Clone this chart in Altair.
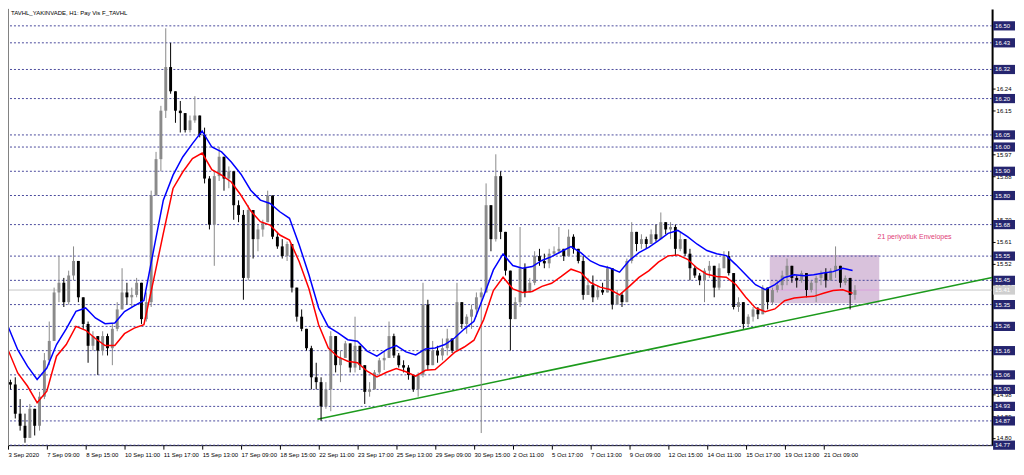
import altair as alt
import pandas as pd

W, H = 988, 438
FONT = "Liberation Sans"

# ---------------- data ----------------
first_open = 15.03
closes = [15.02, 14.90, 14.85, 14.80, 14.92, 14.85, 14.97, 15.12, 15.20, 15.40,
          15.44, 15.36, 15.47, 15.53, 15.38, 15.27, 15.18, 15.22, 15.16, 15.22,
          15.17, 15.25, 15.33, 15.40, 15.38, 15.39, 15.44, 15.29, 15.36, 15.80,
          15.95, 16.15, 16.33, 16.23, 16.15, 16.14, 16.07, 16.11, 16.13, 16.05,
          15.87, 15.68, 15.88, 15.96, 15.87, 15.90, 15.76, 15.72, 15.46, 15.74,
          15.62, 15.66, 15.69, 15.80, 15.63, 15.59, 15.55, 15.60, 15.42, 15.30,
          15.25, 15.17, 15.05, 15.03, 14.93, 15.00, 15.22, 15.10, 15.13, 15.19,
          15.09, 15.18, 15.10, 14.99, 15.00, 15.07, 15.12, 15.13, 15.22, 15.14,
          15.10, 15.09, 15.06, 15.00, 15.06, 15.35, 15.10, 15.16, 15.14, 15.17,
          15.21, 15.16, 15.36, 15.27, 15.30, 15.33, 15.38, 15.40, 15.76, 15.62,
          15.88, 15.65, 15.49, 15.29, 15.36, 15.50, 15.40, 15.44, 15.55, 15.53,
          15.52, 15.56, 15.57, 15.58, 15.55, 15.63, 15.58, 15.53, 15.39, 15.43,
          15.38, 15.41, 15.40, 15.50, 15.35, 15.39, 15.36, 15.53, 15.65, 15.60,
          15.62, 15.60, 15.64, 15.62, 15.69, 15.66, 15.67, 15.58, 15.62, 15.56,
          15.50, 15.47, 15.45, 15.49, 15.51, 15.42, 15.50, 15.55, 15.48, 15.34,
          15.36, 15.27, 15.30, 15.33, 15.31, 15.42, 15.36, 15.41, 15.43, 15.47,
          15.51, 15.46, 15.45, 15.48, 15.41, 15.44, 15.46, 15.48, 15.45, 15.49,
          15.51, 15.44, 15.46, 15.39, 15.41]
highs = [15.04, 15.05, 14.96, 14.90, 14.94, 14.92, 14.99, 15.15, 15.28, 15.42,
         15.55, 15.46, 15.49, 15.59, 15.53, 15.38, 15.28, 15.24, 15.22, 15.24,
         15.23, 15.27, 15.36, 15.50, 15.44, 15.42, 15.46, 15.44, 15.40, 15.82,
         15.98, 16.17, 16.49, 16.43, 16.22, 16.19, 16.14, 16.13, 16.21, 16.12,
         16.08, 15.88, 15.90, 16.00, 15.93, 15.92, 15.88, 15.78, 15.74, 15.76,
         15.68, 15.68, 15.70, 15.82, 15.73, 15.65, 15.62, 15.61, 15.58, 15.42,
         15.33, 15.25, 15.18, 15.11, 15.05, 15.03, 15.24, 15.18, 15.16, 15.20,
         15.16, 15.30, 15.17, 15.09, 15.03, 15.08, 15.13, 15.16, 15.28, 15.23,
         15.15, 15.12, 15.10, 15.06, 15.07, 15.44, 15.37, 15.20, 15.18, 15.21,
         15.25, 15.21, 15.44, 15.34, 15.31, 15.35, 15.40, 15.42, 15.85, 15.76,
         15.97, 15.90, 15.65, 15.47, 15.38, 15.67, 15.52, 15.46, 15.57, 15.58,
         15.56, 15.58, 15.59, 15.67, 15.58, 15.66, 15.64, 15.58, 15.55, 15.46,
         15.47, 15.43, 15.44, 15.51, 15.50, 15.41, 15.40, 15.54, 15.69, 15.64,
         15.64, 15.63, 15.66, 15.68, 15.73, 15.69, 15.69, 15.68, 15.65, 15.60,
         15.58, 15.51, 15.48, 15.50, 15.53, 15.47, 15.52, 15.57, 15.57, 15.48,
         15.38, 15.36, 15.31, 15.34, 15.34, 15.43, 15.42, 15.42, 15.45, 15.49,
         15.54, 15.50, 15.47, 15.49, 15.47, 15.45, 15.47, 15.49, 15.50, 15.50,
         15.59, 15.50, 15.47, 15.45, 15.43]
lows = [15.00, 14.88, 14.83, 14.78, 14.80, 14.81, 14.83, 14.96, 15.10, 15.20,
        15.36, 15.34, 15.35, 15.45, 15.36, 15.25, 15.11, 15.16, 15.06, 15.14,
        15.14, 15.10, 15.24, 15.34, 15.35, 15.34, 15.38, 15.27, 15.28, 15.34,
        15.80, 15.90, 16.12, 16.22, 16.10, 16.06, 16.06, 16.06, 16.10, 16.04,
        15.85, 15.66, 15.51, 15.86, 15.82, 15.83, 15.70, 15.69, 15.37, 15.45,
        15.54, 15.57, 15.63, 15.71, 15.62, 15.58, 15.54, 15.53, 15.40, 15.28,
        15.24, 15.16, 15.00, 15.00, 14.87, 14.92, 14.91, 15.07, 15.03, 15.13,
        15.07, 15.07, 15.08, 14.94, 14.97, 15.00, 15.06, 15.08, 15.14, 15.13,
        15.09, 15.07, 15.04, 14.99, 14.97, 15.05, 15.08, 15.10, 15.11, 15.12,
        15.14, 15.15, 15.18, 15.25, 15.23, 15.25, 15.30, 14.82, 15.40, 15.57,
        15.61, 15.62, 15.47, 15.16, 15.30, 15.34, 15.38, 15.40, 15.43, 15.51,
        15.50, 15.50, 15.55, 15.56, 15.53, 15.55, 15.56, 15.52, 15.37, 15.40,
        15.36, 15.37, 15.39, 15.40, 15.33, 15.35, 15.34, 15.36, 15.52, 15.57,
        15.58, 15.58, 15.60, 15.61, 15.62, 15.64, 15.62, 15.55, 15.57, 15.55,
        15.45, 15.46, 15.43, 15.36, 15.46, 15.38, 15.41, 15.52, 15.47, 15.33,
        15.32, 15.25, 15.26, 15.28, 15.29, 15.31, 15.33, 15.35, 15.40, 15.41,
        15.43, 15.44, 15.42, 15.44, 15.38, 15.40, 15.36, 15.43, 15.42, 15.45,
        15.46, 15.42, 15.43, 15.33, 15.37]

# envelope lines, one value every 4 bars
env_upper = [15.260, 15.164, 15.096, 15.041, 15.088, 15.185, 15.250, 15.322, 15.336, 15.295,
             15.271, 15.274, 15.321, 15.345, 15.367, 15.575, 15.781, 15.884, 15.959, 16.014,
             16.066, 16.000, 15.980, 15.938, 15.888, 15.822, 15.781, 15.767, 15.733, 15.706,
             15.596, 15.473, 15.336, 15.258, 15.233, 15.205, 15.199, 15.158, 15.137, 15.164,
             15.181, 15.155, 15.142, 15.167, 15.171, 15.185, 15.212, 15.249, 15.281, 15.384,
             15.493, 15.559, 15.511, 15.500, 15.507, 15.532, 15.548, 15.569, 15.589, 15.564,
             15.530, 15.511, 15.501, 15.484, 15.532, 15.564, 15.586, 15.614, 15.644, 15.656,
             15.630, 15.599, 15.573, 15.560, 15.552, 15.514, 15.473, 15.432, 15.412, 15.432,
             15.462, 15.473, 15.469, 15.473, 15.480, 15.486, 15.500, 15.491]
env_lower = [15.164, 15.068, 15.014, 14.945, 14.993, 15.137, 15.185, 15.260, 15.244, 15.210,
             15.181, 15.181, 15.230, 15.253, 15.267, 15.452, 15.644, 15.829, 15.897, 15.952,
             15.975, 15.907, 15.884, 15.856, 15.801, 15.737, 15.692, 15.678, 15.637, 15.616,
             15.527, 15.415, 15.267, 15.171, 15.134, 15.116, 15.110, 15.075, 15.052, 15.071,
             15.086, 15.073, 15.055, 15.079, 15.082, 15.116, 15.153, 15.175, 15.203, 15.288,
             15.408, 15.463, 15.415, 15.400, 15.404, 15.425, 15.438, 15.466, 15.496, 15.482,
             15.441, 15.422, 15.412, 15.390, 15.425, 15.462, 15.489, 15.525, 15.551, 15.555,
             15.537, 15.500, 15.475, 15.466, 15.463, 15.432, 15.380, 15.336, 15.321, 15.332,
             15.366, 15.377, 15.381, 15.384, 15.397, 15.408, 15.411, 15.397]

levels = [16.50, 16.43, 16.32, 16.20, 16.05, 16.00, 15.90, 15.80, 15.68, 15.55,
          15.45, 15.35, 15.26, 15.16, 15.06, 15.00, 14.93, 14.87, 14.77]
current_price = 15.41
scale_ticks = [round(14.80 + 0.09 * k, 2) for k in range(20)]
x_labels = ["3 Sep 2020", "7 Sep 09:00", "8 Sep 15:00", "10 Sep 11:00", "11 Sep 17:00",
            "15 Sep 13:00", "17 Sep 09:00", "18 Sep 15:00", "22 Sep 11:00", "23 Sep 17:00",
            "25 Sep 13:00", "29 Sep 09:00", "30 Sep 15:00", "2 Oct 11:00", "5 Oct 17:00",
            "7 Oct 13:00", "9 Oct 09:00", "12 Oct 15:00", "14 Oct 11:00", "15 Oct 17:00",
            "19 Oct 13:00", "21 Oct 09:00"]
trend_x = [127.5, 405.5]
trend_y = [14.877, 15.462]
box_x = [313.9, 359.0]
box_y = [15.555, 15.356]
title_text = "TAVHL_YAKINVADE, H1: Pay Vis F_TAVHL"
note_text = "21 periyotluk Envelopes"
note_pos = (358.3, 15.629)

# ---------------- tables ----------------
rows = []
prev = first_open
for j, c in enumerate(closes):
    o = prev
    hi = max(highs[j], o, c)
    lo = min(lows[j], o, c)
    bot, top = min(o, c), max(o, c)
    if top - bot < 0.005:
        top = bot + 0.005
    s = 2 * j + 1
    rows.append(dict(slot=s, x0=s - 0.6, x1=s + 0.6, open=o, close=c, high=hi, low=lo,
                     bot=bot, top=top, dir="up" if c >= o else "down"))
    prev = c
candles = pd.DataFrame(rows)

env = pd.DataFrame({"slot": [4 * k for k in range(len(env_upper))],
                    "upper": env_upper, "lower": env_lower})
lv = pd.DataFrame({"p": levels, "lab": [f"{v:.2f}" for v in levels]})
lv["y1"] = lv["p"] + 0.019
lv["y2"] = lv["p"] - 0.019
trend = pd.DataFrame({"slot": trend_x, "p": trend_y})
rect = pd.DataFrame({"a": [box_x[0]], "b": [box_x[1]], "t": [box_y[0]], "u": [box_y[1]]})
cur = pd.DataFrame({"p": [current_price], "y1": [current_price + 0.019],
                    "y2": [current_price - 0.019], "lab": [f"{current_price:.2f}"],
                    "a": [box_x[0]], "b": [box_x[1]]})
note = pd.DataFrame({"slot": [note_pos[0]], "p": [note_pos[1]], "t": [note_text]})

# scale labels that sit fully under a level box are left blank (ticks stay)
hidden = [v for v in scale_ticks if any(abs(v - L) < 0.015 for L in levels)]
hidden_arr = "[" + ",".join(f"{v:.2f}" for v in hidden) + "]"

# ---------------- scales / axes ----------------
xs = alt.Scale(domain=[0, 405.5], nice=False, zero=False)
ys = alt.Scale(domain=[14.77, 16.57], nice=False, zero=False)
label_arr = "[" + ",".join(f"'{t}'" for t in x_labels) + "]"
xaxis = alt.Axis(values=[16 * k for k in range(len(x_labels))],
                 labelExpr=f"{label_arr}[round(datum.value/16)]",
                 orient="bottom", title=None, grid=False, labelAlign="left",
                 labelPadding=2, labelFontSize=6, labelFont=FONT, labelColor="#000000",
                 tickColor="#000000", tickSize=4, domainColor="#000000", domainWidth=1,
                 labelOverlap=False, labelFlush=False)
yaxis = alt.Axis(values=scale_ticks,
                 labelExpr=f"indexof({hidden_arr}, round(datum.value*100)/100) >= 0 ? '' : format(datum.value, '.2f')",
                 orient="right", title=None, grid=False,
                 labelPadding=1, labelFontSize=6, labelFont=FONT, labelColor="#000000",
                 tickColor="#000000", tickSize=3, domainColor="#000000", domainWidth=2,
                 labelOverlap=False)

def X(f):
    return alt.X(f, type="quantitative", scale=xs, axis=xaxis)

def Y(f):
    return alt.Y(f, type="quantitative", scale=ys, axis=yaxis)

dir_color = alt.Color("dir:N", scale=alt.Scale(domain=["up", "down"], range=["#8a8a8a", "#000000"]),
                      legend=None)

purple = alt.Chart(rect).mark_rect(color="#d9c2dc").encode(
    x=X("a"), x2="b", y=Y("t"), y2="u")
lvl_lines = alt.Chart(lv).mark_rule(color="#4a4a9c", strokeDash=[2, 2], strokeWidth=1).encode(y=Y("p"))
cur_line = alt.Chart(cur).mark_rule(color="#c8c8c8", strokeWidth=1).encode(y=Y("p"))
cur_pink = alt.Chart(cur).mark_rule(color="#e49ee6", strokeWidth=1).encode(x=X("a"), x2="b", y=Y("p"))
trend_line = alt.Chart(trend).mark_line(color="#1c9a1c", strokeWidth=1.6, clip=True).encode(
    x=X("slot"), y=Y("p"))
wicks = alt.Chart(candles).mark_rule(strokeWidth=1).encode(
    x=X("slot"), y=Y("low"), y2="high", color=dir_color)
bodies = alt.Chart(candles).mark_rect().encode(
    x=X("x0"), x2="x1", y=Y("bot"), y2="top", color=dir_color)
upper = alt.Chart(env).mark_line(color="#0000ff", strokeWidth=1.5).encode(x=X("slot"), y=Y("upper"))
lower = alt.Chart(env).mark_line(color="#ff0000", strokeWidth=1.5).encode(x=X("slot"), y=Y("lower"))
note_txt = alt.Chart(note).mark_text(align="left", baseline="middle", fontSize=7, font=FONT,
                                     color="#e03c78").encode(x=X("slot"), y=Y("p"), text="t:N")
title_txt = alt.Chart(note).mark_text(align="left", baseline="top", fontSize=6, font=FONT,
                                      color="#000000").encode(
    x=alt.value(3), y=alt.value(1), text=alt.value(title_text))
left_border = alt.Chart(note).mark_rule(color="#808080", strokeWidth=1).encode(
    x=alt.value(0.5), y=alt.value(0), y2=alt.value(H))
lab_boxes = alt.Chart(lv).mark_rect(color="#25256f").encode(
    x=alt.value(W + 1), x2=alt.value(W + 23), y=Y("y1"), y2="y2")
lab_text = alt.Chart(lv).mark_text(align="left", baseline="middle", fontSize=6, font=FONT,
                                   color="#ffffff").encode(
    x=alt.value(W + 3), y=Y("p"), text="lab:N")
cur_box = alt.Chart(cur).mark_rect(color="#cfcfcf").encode(
    x=alt.value(W + 1), x2=alt.value(W + 23), y=Y("y1"), y2="y2")
cur_text = alt.Chart(cur).mark_text(align="left", baseline="middle", fontSize=6, font=FONT,
                                    color="#ffffff").encode(
    x=alt.value(W + 3), y=Y("p"), text="lab:N")

chart = alt.layer(
    purple, lvl_lines, cur_line, cur_pink, trend_line, wicks, bodies, upper, lower,
    note_txt, title_txt, left_border, lab_boxes, lab_text, cur_box, cur_text
).properties(
    width=W, height=H,
    autosize=alt.AutoSizeParams(type="none"),
    padding={"left": 0, "top": 0, "right": 24, "bottom": 12},
    background="#ffffff",
).configure_view(stroke=None)

chart.save("out.html", embed_options={"renderer": "svg", "actions": False})
